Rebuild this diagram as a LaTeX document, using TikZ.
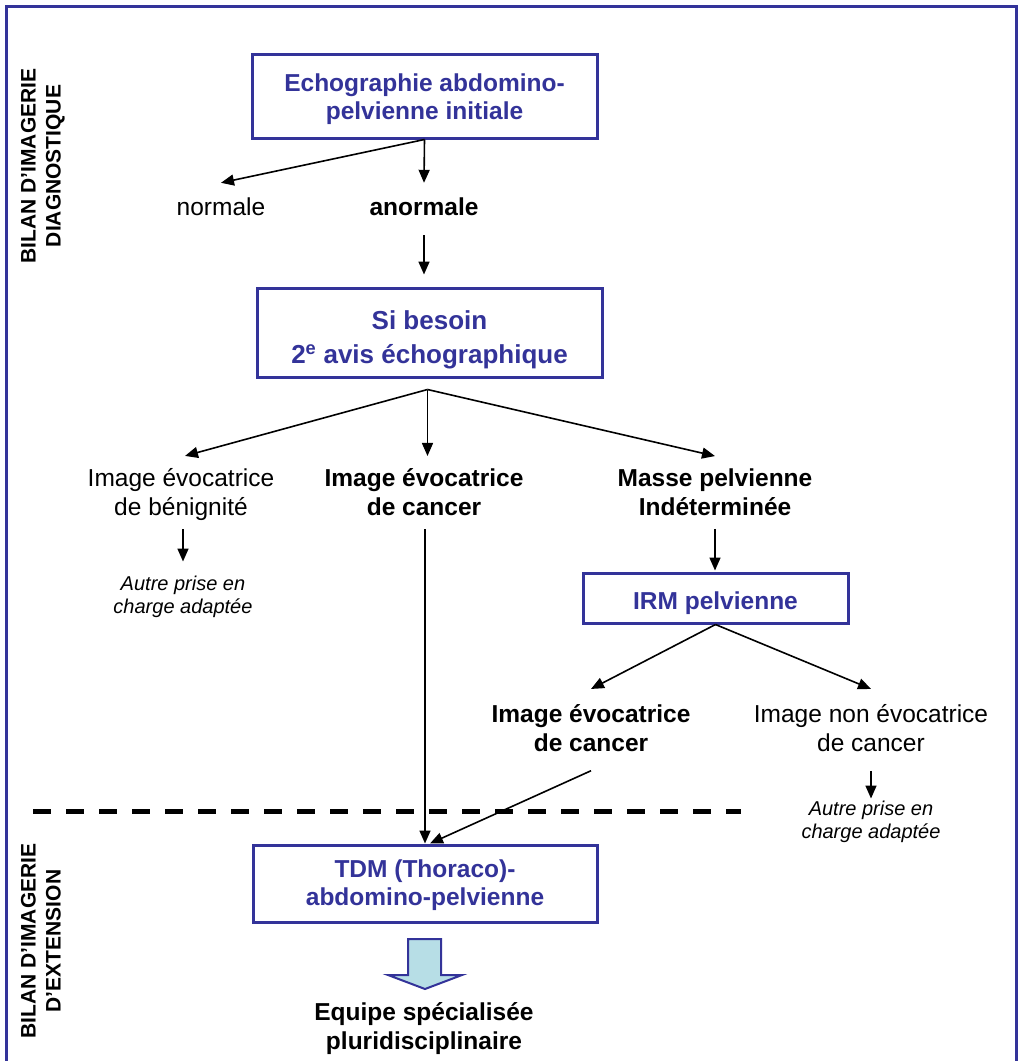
\documentclass[tikz,border=0pt]{standalone}
\usepackage{fontspec}
\setmainfont{Liberation Sans}
\usetikzlibrary{arrows.meta}
\definecolor{ppblue}{RGB}{51,51,153}
\definecolor{ppcyan}{RGB}{183,222,230}
\newcommand{\toprule}[1]{\rule{0pt}{#1}}
\begin{document}
\begin{tikzpicture}[x=1pt,y=-1pt,
  every node/.style={inner sep=0pt, align=center,
    execute at begin node=\strut, execute at end node=\strut},
  lbl/.style={font=\fontsize{24.5}{29}\selectfont},
  lblb/.style={font=\fontsize{24.5}{29}\selectfont\bfseries},
  note/.style={font=\fontsize{20}{23}\selectfont\itshape},
  box/.style={draw=ppblue, line width=3pt, text=ppblue,
    font=\fontsize{24.5}{28.5}\selectfont\bfseries},
  side/.style={rotate=90, font=\fontsize{21}{25}\selectfont\bfseries},
  arr/.style={line width=1.6pt, -{Triangle[length=13pt,width=11pt]}},
]
\useasboundingbox (0,0) rectangle (1019,1061);
\fill[white] (0,0) rectangle (1019,1061);
\draw[ppblue, line width=3pt] (6,1061) -- (6,6) -- (1016,6) -- (1016,1061);

% side labels
\node[side] (diag) at (44.5,166) {BILAN D’IMAGERIE\\DIAGNOSTIQUE};
\node[side] (ext) at (44.5,941) {BILAN D’IMAGERIE\\D’EXTENSION};

% nodes
\node[box, minimum width=345pt, minimum height=84pt] (echo) at (424.5,96)
  {\toprule{28pt}Echographie abdomino-\\pelvienne initiale};
\node[lbl] (normale) at (221,209.2) {normale};
\node[lblb] (anormale) at (424,209.2) {anormale};
\node[box, minimum width=345pt, minimum height=89pt,
  font=\fontsize{26}{34}\selectfont\bfseries] (avis) at (429.5,332.5)
  {\toprule{38pt}Si besoin\\2\textsuperscript{e} avis échographique};
\node[lbl] (benin) at (181,496.7) {Image évocatrice\\de bénignité};
\node[lblb] (cancer1) at (424,496.7) {Image évocatrice\\de cancer};
\node[lblb] (masse) at (715,496.7) {Masse pelvienne\\Indéterminée};
\node[note] (autre1) at (183,597.9) {Autre prise en\\charge adaptée};
\node[box, minimum width=265pt, minimum height=50pt] (irm) at (715.5,598) {\toprule{31pt}IRM pelvienne};
\node[lblb] (cancer2) at (591,732.7) {Image évocatrice\\de cancer};
\node[lbl] (noncancer) at (871,732.7) {Image non évocatrice\\de cancer};
\node[note] (autre2) at (871,822.9) {Autre prise en\\charge adaptée};
\node[box, minimum width=344pt, minimum height=77pt] (tdm) at (425,883.5)
  {\toprule{25pt}TDM (Thoraco)-\\abdomino-pelvienne};
\node[lblb] (equipe) at (424,1030.7) {Equipe spécialisée\\pluridisciplinaire};

% connectors
\draw[arr] (echo.south) -- ([yshift=11.7pt]normale.north);
\draw[arr] (echo.south) -- ([yshift=11.7pt]anormale.north);
\draw[arr, shorten <=11.3pt, shorten >=12pt] (anormale.south) -- (anormale.south |- avis.north);
\coordinate (split) at ([yshift=-11pt, xshift=-2pt]avis.south);
\draw[arr] (split) -- ([yshift=12.7pt, xshift=4pt]benin.north);
\draw[arr] (split) -- ([yshift=12.7pt]split |- cancer1.north);
\draw[arr] (split) -- ([yshift=12.7pt]masse.north);
\draw[arr, shorten <=4.3pt, shorten >=14pt] (benin.south -| autre1.north) -- (autre1.north);
\draw[arr, shorten <=4.3pt] (tdm.north |- cancer1.south) -- (tdm.north);
\draw[arr, shorten <=4.3pt, shorten >=1pt] (masse.south) -- (masse.south |- irm.north);
\draw[arr] (irm.south) -- ([yshift=15.7pt]cancer2.north);
\draw[arr] (irm.south) -- ([yshift=15.7pt]noncancer.north);
\draw[arr, shorten <=10pt, shorten >=2pt] (noncancer.south) -- (autre2.north);
\draw[arr] ([yshift=-10pt]cancer2.south) -- ([xshift=5pt]tdm.north);

% separator
\coordinate (d1) at (33,811);
\coordinate (d2) at (741,811);
\draw[line width=5pt, dash pattern=on 18pt off 15pt] (d1) -- (d2);

% block arrow
\draw[draw=ppblue, fill=ppcyan, line width=2pt]
  (408,939) -- (441,939) -- (441,975) -- (462,975) -- (425,989) -- (388,975) -- (408,975) -- cycle;
\end{tikzpicture}
\end{document}
